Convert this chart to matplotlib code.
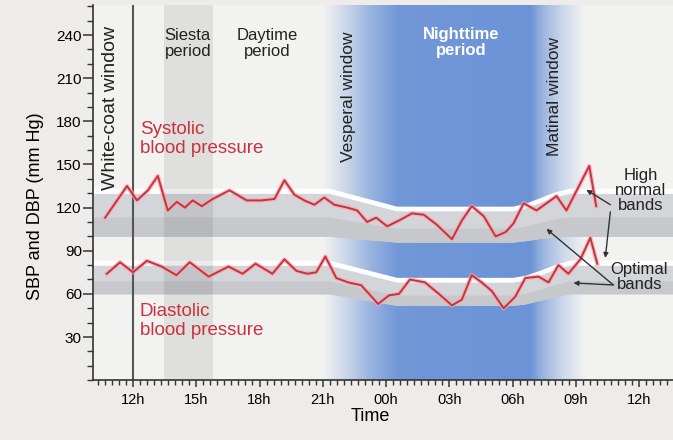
import numpy as np
import matplotlib.pyplot as plt
from matplotlib import patheffects as pe
from matplotlib.ticker import MultipleLocator, FixedLocator

plt.rcParams['font.family'] = ['Liberation Sans', 'DejaVu Sans']

# blood pressure readings (clock hour, 24 = midnight)
sbp_hours = [10.68, 11.72, 12.19, 12.71, 13.18, 13.65, 14.08, 14.46, 14.83, 15.26,
             15.78, 16.58, 17.39, 18.09, 18.71, 19.18, 19.65, 20.12, 20.60, 21.07,
             21.54, 22.16, 22.63, 23.10, 23.53, 24.05, 24.61, 25.23, 25.79, 26.41,
             27.12, 27.59, 28.06, 28.63, 29.19, 29.67, 30.04, 30.52, 31.13, 32.08,
             32.55, 33.63, 33.96]
sbp = [113, 135, 125, 132, 142, 118, 124, 120, 125, 121,
       126, 132, 125, 125, 126, 139, 129, 125, 122, 127,
       122, 120, 118, 110, 113, 107, 111, 116, 115, 108,
       98, 111, 121, 114, 100, 103, 109, 123, 118, 128,
       118, 149, 121]

dbp_hours = [10.76, 11.39, 12.00, 12.66, 13.36, 14.06, 14.69, 15.59, 16.53, 17.20,
             17.81, 18.61, 19.18, 19.75, 20.27, 20.69, 21.12, 21.64, 22.20, 22.82,
             23.62, 24.14, 24.61, 25.13, 25.84, 26.50, 27.12, 27.59, 28.06, 28.53,
             29.01, 29.57, 30.12, 30.60, 31.22, 31.70, 32.17, 32.64, 33.21, 33.68,
             34.01]
dbp = [74, 82, 75, 83, 79, 73, 82, 72, 79, 74,
       81, 74, 84, 76, 74, 75, 86, 71, 68, 66,
       53, 59, 60, 70, 68, 60, 52, 56, 73, 68,
       62, 50, 58, 71, 72, 68, 80, 74, 84, 99,
       81]

# reference bands (day level, lowered during the night)
band_hours = [10.1, 21.3, 24.5, 30.0, 30.6, 31.3, 32.0, 32.7, 37.6]
sbp_band_top = [130, 130, 117.5, 117.5, 119.5, 123.5, 127.5, 130, 130]
sbp_band_low = [100, 100, 96, 96, 97, 98.5, 99.5, 100, 100]
dbp_band_top = [80, 80, 68, 68, 69.5, 73, 77, 80, 80]
dbp_band_low = [60, 60, 52, 52, 53, 55.5, 58, 60, 60]

tick_hours = [12, 15, 18, 21, 24, 27, 30, 33, 36]
tick_labels = ['12h', '15h', '18h', '21h', '00h', '03h', '06h', '09h', '12h']

xmin, xmax, ymax = 10.1, 37.6, 261
red = '#c8323f'

fig = plt.figure(figsize=(6.73, 4.4), dpi=100, facecolor='#eeecea')
ax = fig.add_axes([0.138, 0.136, 0.862, 0.853])
ax.set_xlim(xmin, xmax)
ax.set_ylim(0, ymax)

# night background gradient
gx = np.linspace(xmin, xmax, 800)
a = np.interp(gx, [21.0, 22.1, 23.2, 24.5, 30.8, 31.5, 32.3, 33.4],
              [0, 0.3, 0.65, 0.95, 1, 0.6, 0.3, 0])
base = np.array([0.95, 0.95, 0.945])
blue = np.array([0.42, 0.576, 0.84])
rgb = base[None, :] * (1 - a[:, None]) + blue[None, :] * a[:, None]
ax.imshow(rgb[None, :, :], extent=[xmin, xmax, 0, ymax], aspect='auto',
          zorder=0, interpolation='bilinear')

# bands with white upper edge
for top, low in [(sbp_band_top, sbp_band_low), (dbp_band_top, dbp_band_low)]:
    top = np.array(top)
    low = np.array(low)
    mid = low + (top - low) * 0.45
    ax.fill_between(band_hours, low, top, color='#d4d5d8', lw=0, zorder=1)
    ax.fill_between(band_hours, low, mid, color='#c6c8cc', lw=0, zorder=1)
    ax.fill_between(band_hours, top, top + 3.5, color='white', lw=0, zorder=2)

# siesta period and white-coat window
ax.axvspan(13.46, 15.78, color='black', alpha=0.08, lw=0, zorder=3)
ax.axvline(12, color='#555555', lw=1.5, zorder=3.5)

halo = [pe.Stroke(linewidth=3.2, foreground='#f2a9b0', alpha=0.7), pe.Normal()]
ax.plot(sbp_hours, sbp, color=red, lw=1.4, zorder=4, path_effects=halo)
ax.plot(dbp_hours, dbp, color=red, lw=1.4, zorder=4, path_effects=halo)

# labels inside the plot
ax.text(12.33, 180, 'Systolic\nblood pressure', color=red, fontsize=13.5,
        va='top', ha='left', linespacing=1.15, zorder=5)
ax.text(12.33, 53.5, 'Diastolic\nblood pressure', color=red, fontsize=13.5,
        va='top', ha='left', linespacing=1.15, zorder=5)
ax.text(10.95, 189, 'White-coat window', rotation=90, fontsize=14,
        ha='center', va='center', color='#222222', zorder=5)
ax.text(14.6, 234, 'Siesta\nperiod', fontsize=12, ha='center', va='center',
        color='#222222', linespacing=1.05, zorder=5)
ax.text(18.38, 234, 'Daytime\nperiod', fontsize=12, ha='center', va='center',
        color='#222222', linespacing=1.05, zorder=5)
ax.text(27.54, 235, 'Nighttime\nperiod', fontsize=12, ha='center', va='center',
        color='white', linespacing=1.05, fontweight='bold', zorder=5)
ax.text(22.2, 197, 'Vesperal window', rotation=90, fontsize=12.5,
        ha='center', va='center', color='#222222', zorder=5)
ax.text(32.0, 197, 'Matinal window', rotation=90, fontsize=12.5,
        ha='center', va='center', color='#222222', zorder=5)
ax.text(36.07, 132, 'High\nnormal\nbands', fontsize=12, ha='center', va='center',
        color='#222222', linespacing=1.0, zorder=5)
ax.text(36.0, 72, 'Optimal\nbands', fontsize=12, ha='center', va='center',
        color='#222222', linespacing=1.0, zorder=5)

arrow = dict(arrowstyle='-|>', color='#333333', lw=1.0, mutation_scale=7,
             shrinkA=0, shrinkB=0)
ax.annotate('', xy=(33.49, 132.4), xytext=(34.63, 122), arrowprops=arrow, zorder=5)
ax.annotate('', xy=(34.39, 85), xytext=(34.63, 117), arrowprops=arrow, zorder=5)
ax.annotate('', xy=(31.60, 105.2), xytext=(34.77, 66.2), arrowprops=arrow, zorder=5)
ax.annotate('', xy=(32.88, 67.6), xytext=(34.77, 66.2), arrowprops=arrow, zorder=5)

# axes styling
for s in ['top', 'right']:
    ax.spines[s].set_visible(False)
for s in ['left', 'bottom']:
    ax.spines[s].set_color('#333333')
    ax.spines[s].set_linewidth(1.2)
    ax.spines[s].set_zorder(6)

ax.xaxis.set_major_locator(FixedLocator(tick_hours))
ax.set_xticklabels(tick_labels)
ax.xaxis.set_minor_locator(MultipleLocator(1 / 3))
ax.yaxis.set_major_locator(FixedLocator([30, 60, 90, 120, 150, 180, 210, 240]))
ax.yaxis.set_minor_locator(MultipleLocator(10))
ax.tick_params(axis='x', which='major', length=5, width=1.1, color='#333333',
               labelsize=10.5, pad=4)
ax.tick_params(axis='x', which='minor', length=3.5, width=1.0, color='#333333')
ax.tick_params(axis='y', which='major', length=7, width=1.1, color='#333333',
               labelsize=11, pad=1)
ax.tick_params(axis='y', which='minor', length=4, width=1.0, color='#333333')

ax.set_xlabel('Time', fontsize=13, x=0.478, labelpad=1)
ax.set_ylabel('SBP and DBP (mm Hg)', fontsize=13)
ax.yaxis.set_label_coords(-0.085, 0.464)

fig.savefig('out.png', dpi=100, facecolor=fig.get_facecolor())
